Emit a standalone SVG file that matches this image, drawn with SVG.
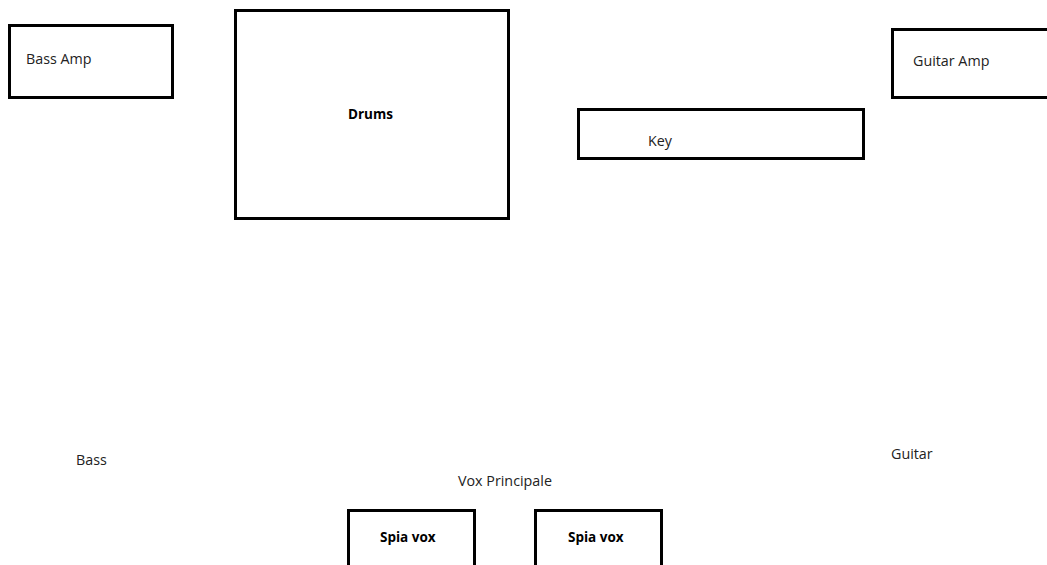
<svg xmlns="http://www.w3.org/2000/svg" width="1047" height="565" viewBox="0 0 1047 565">
<style>
.box{fill:#fff;stroke:#000;stroke-width:3}
.t{font-family:"Open Sans","Noto Sans",sans-serif;font-size:14.3px;fill:#222}
.b{font-weight:bold;fill:#000;font-size:13.5px}
</style>
<rect width="1047" height="565" fill="#fff"/>
<g id="connectors"></g>
<g id="bass-amp"><rect class="box" x="9.5" y="25.5" width="163" height="72"/><text class="t" x="26" y="64">Bass Amp</text></g>
<g id="drums"><rect class="box" x="235.5" y="10.5" width="273" height="208"/><text class="t b" x="348" y="119">Drums</text></g>
<g id="key"><rect class="box" x="578.5" y="109.5" width="285" height="49"/><text class="t" x="648" y="146">Key</text></g>
<g id="guitar-amp"><rect class="box" x="892.5" y="29.5" width="160" height="68"/><text class="t" x="913" y="66">Guitar Amp</text></g>
<g id="bass"><text class="t" x="76" y="465">Bass</text></g>
<g id="guitar"><text class="t" x="891" y="459">Guitar</text></g>
<g id="vox-principale"><text class="t" x="458" y="486">Vox Principale</text></g>
<g id="spia-vox-1"><rect class="box" x="348.5" y="510.5" width="126" height="60"/><text class="t b" x="380" y="542">Spia vox</text></g>
<g id="spia-vox-2"><rect class="box" x="535.5" y="510.5" width="126" height="60"/><text class="t b" x="568" y="542">Spia vox</text></g>
</svg>
